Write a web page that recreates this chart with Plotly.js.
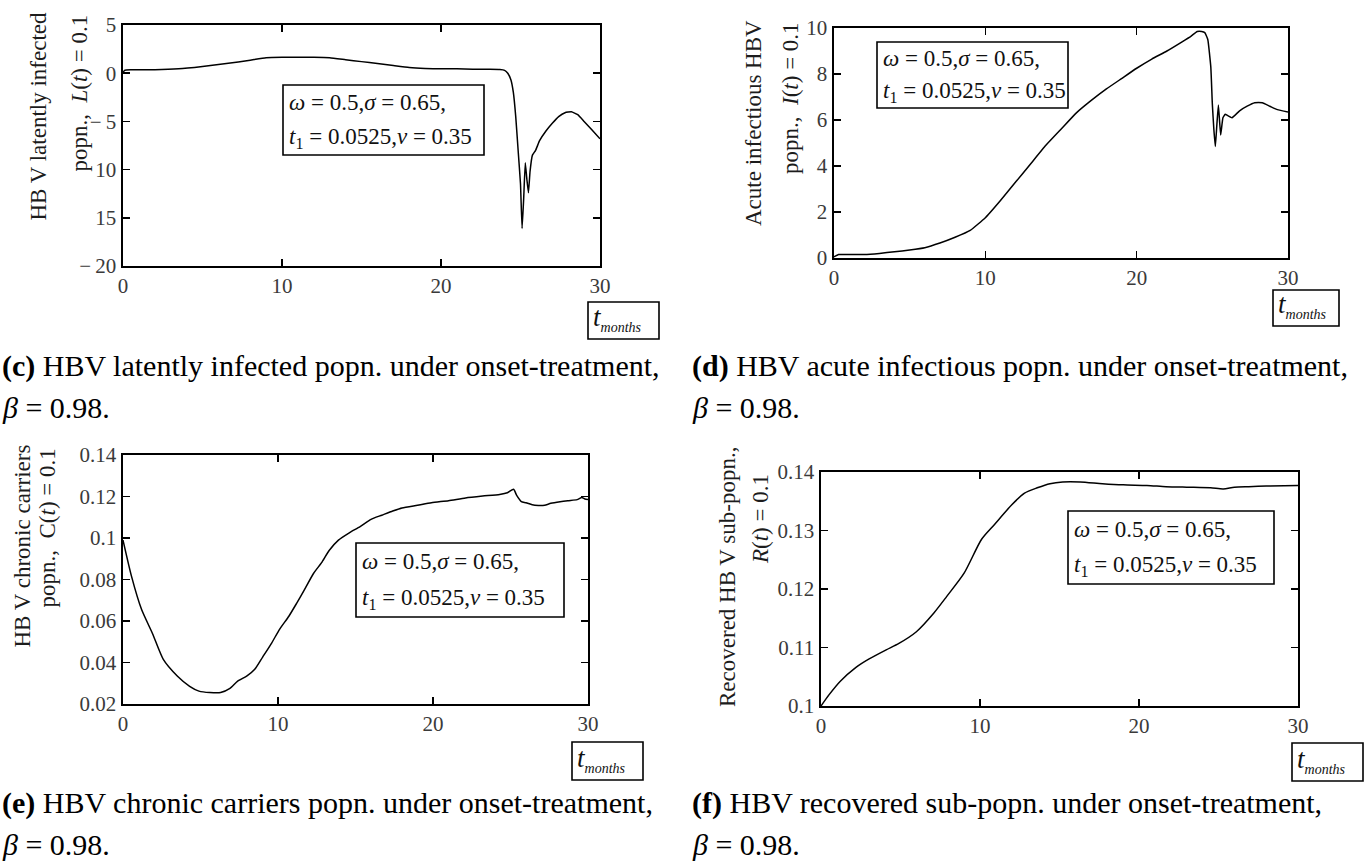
<!DOCTYPE html>
<html>
<head>
<meta charset="utf-8">
<script src="https://cdn.plot.ly/plotly-3.0.1.min.js"></script>
<style>html,body{margin:0;padding:0;background:#fff;}#chart{width:1370px;height:861px;}</style>
</head>
<body>
<div id="chart"></div>
<script>
// ---- data ----
const tL = [0, 0.1, 0.5, 2, 3.5, 5, 6.5, 8, 9, 10, 11, 12, 13, 14, 15, 16, 17, 18, 19, 20, 21, 22, 23, 23.7, 24.0, 24.2, 24.4, 24.55, 24.7, 24.85, 25.0, 25.1, 25.2, 25.3, 25.4, 25.5, 25.6, 25.75, 25.95, 26.2, 26.6, 27.0, 27.4, 27.8, 28.2, 28.6, 29.0, 29.5, 30];
const L  = [0.05, 0.3, 0.35, 0.35, 0.45, 0.7, 1.0, 1.35, 1.6, 1.65, 1.65, 1.65, 1.6, 1.4, 1.2, 1.0, 0.8, 0.6, 0.5, 0.45, 0.45, 0.42, 0.4, 0.38, 0.3, 0.0, -0.7, -2.0, -4.5, -8.0, -11.5, -16.1, -13.0, -9.3, -11.0, -12.4, -10.2, -8.5, -8.0, -7.0, -6.0, -5.2, -4.5, -4.1, -4.0, -4.3, -5.0, -5.9, -6.8];

const tI = [0, 0.3, 1, 2, 3, 4, 5, 6, 7, 8, 9, 10, 11, 12, 13, 14, 15, 16, 17, 18, 19, 20, 21, 22, 23, 23.6, 24.0, 24.3, 24.5, 24.7, 24.9, 25.0, 25.1, 25.2, 25.3, 25.4, 25.55, 25.7, 25.85, 26.0, 26.3, 26.8, 27.3, 27.8, 28.3, 28.8, 29.3, 30];
const I  = [0.05, 0.15, 0.15, 0.15, 0.2, 0.27, 0.35, 0.45, 0.65, 0.9, 1.2, 1.75, 2.5, 3.3, 4.1, 4.9, 5.6, 6.3, 6.85, 7.35, 7.8, 8.25, 8.65, 9.0, 9.4, 9.65, 9.85, 9.85, 9.8, 9.5, 8.3, 6.7, 5.6, 4.85, 5.8, 6.65, 5.35, 6.1, 6.25, 6.2, 6.1, 6.4, 6.6, 6.75, 6.75, 6.6, 6.45, 6.35];

const tC = [0, 0.55, 1.2, 1.9, 2.6, 3.5, 4.3, 4.9, 5.6, 6.3, 6.9, 7.4, 8.0, 8.5, 9.0, 9.6, 10.1, 10.7, 11.2, 11.7, 12.3, 12.8, 13.3, 13.9, 14.6, 15.3, 16.0, 16.7, 17.4, 18.0, 19.0, 19.9, 21.0, 22.1, 23.2, 24.3, 24.8, 25.2, 25.4, 25.7, 26.0, 26.4, 26.8, 27.2, 27.6, 28.2, 28.7, 29.3, 29.6, 29.8, 30];
const C  = [0.099, 0.0815, 0.0655, 0.054, 0.0415, 0.0335, 0.0285, 0.0262, 0.0255, 0.0255, 0.0275, 0.031, 0.0335, 0.0367, 0.0425, 0.0495, 0.056, 0.0623, 0.0685, 0.075, 0.083, 0.088, 0.094, 0.099, 0.1025, 0.1055, 0.109, 0.111, 0.113, 0.1145, 0.1158, 0.117, 0.118, 0.1193, 0.1202, 0.121, 0.1218, 0.1235, 0.1205, 0.1175, 0.117, 0.116, 0.1157, 0.1158, 0.1167, 0.1175, 0.118, 0.1185, 0.1195, 0.1188, 0.1185];

const tR = [0, 0.5, 1.2, 2.2, 3.0, 4.1, 4.9, 6.0, 7.1, 7.9, 9.0, 10.1, 10.9, 12.0, 12.8, 13.6, 14.4, 15.2, 16.3, 17.7, 19.0, 20.5, 21.7, 23.0, 24.5, 25.3, 26.0, 26.9, 28.0, 30];
const R  = [0.1, 0.1019, 0.1042, 0.1066, 0.108, 0.1096, 0.1107, 0.1127, 0.1159, 0.1187, 0.1227, 0.1285, 0.131, 0.1344, 0.1364, 0.1373, 0.138, 0.1383, 0.1383, 0.138, 0.1378, 0.1377, 0.1375, 0.1374, 0.1373, 0.1371, 0.1374, 0.1375, 0.1376, 0.1377];

const xTickVals = [0, 10, 20, 30];
const xTickText = ['0', '10', '20', '30'];
const yValsL = [-20, -15, -10, -5, 0, 5];
const yTextL = ['\u2212\u200920', '15', '10', '\u2212\u20095', '0', '5'];
const yValsI = [0, 2, 4, 6, 8, 10];
const yTextI = ['0', '2', '4', '6', '8', '10'];
const yValsC = [0.02, 0.04, 0.06, 0.08, 0.1, 0.12, 0.14];
const yTextC = ['0.02', '0.04', '0.06', '0.08', '0.1', '0.12', '0.14'];
const yValsR = [0.1, 0.11, 0.12, 0.13, 0.14];
const yTextR = ['0.1', '0.11', '0.12', '0.13', '0.14'];

const yTitlesL1 = ['HB V latently infected', 'Acute infectious HBV', 'HB V chronic carriers', 'Recovered HB V sub-popn.,'];
const yTitlesL2 = ['popn.,\u00a0 <i>L</i>(<i>t</i>) = 0.1', 'popn.,\u00a0 <i>I</i>(<i>t</i>) = 0.1', 'popn.,\u00a0 C(<i>t</i>) = 0.1', '<i>R</i>(<i>t</i>) = 0.1'];
const boxLine1 = '<i>ω</i> = 0.5,<i>σ</i> = 0.65,';
const boxLine2 = '<i>t</i><sub>1</sub> = 0.0525,<i>ν</i> = 0.35';
const tLabel = '<i>t</i><sub><i><span style="font-size:14px">months</span></i></sub>';
const captions = [
  '<b>(c)</b> HBV latently infected popn. under onset-treatment,',
  '<b>(d)</b> HBV acute infectious popn. under onset-treatment,',
  '<b>(e)</b> HBV chronic carriers popn. under onset-treatment,',
  '<b>(f)</b> HBV recovered sub-popn. under onset-treatment,'
];
const captionBeta = '<i>β</i> = 0.98.';

// ---- layout geometry (pixels) ----
const W = 1370, H = 861;
const px = x => x / W, py = y => 1 - y / H;
const SERIF = 'Liberation Serif, Times New Roman, serif';

const panels = [
  {x0: 123, x1: 600, y0: 25,  y1: 266, range: [-20, 5],     tv: yValsL, tt: yTextL, smooth: 0.35,
   t1x: 38, t1y: 10, t2x: 79, t2y: 13, bx0: 283, bx1: 484, by0: 85, by1: 155,
   tmx0: 588, tmx1: 659, tmy0: 302, tmy1: 339, capx: 0, capy: 366},
  {x0: 834, x1: 1288, y0: 28, y1: 258, range: [0, 10],      tv: yValsI, tt: yTextI, smooth: 0.35,
   t1x: 753, t1y: 18, t2x: 790, t2y: 20, bx0: 877, bx1: 1068, by0: 42, by1: 108,
   tmx0: 1273, tmx1: 1339, tmy0: 290, tmy1: 326, capx: 690, capy: 366},
  {x0: 123, x1: 588, y0: 455, y1: 704, range: [0.02, 0.14], tv: yValsC, tt: yTextC, smooth: 0.6,
   t1x: 22, t1y: 443, t2x: 47, t2y: 447, bx0: 356, bx1: 564, by0: 543, by1: 617,
   tmx0: 572, tmx1: 643, tmy0: 742, tmy1: 780, capx: 0, capy: 803},
  {x0: 821, x1: 1298, y0: 472, y1: 706, range: [0.1, 0.14], tv: yValsR, tt: yTextR, smooth: 0.7,
   t1x: 727, t1y: 445, t2x: 760, t2y: 472, bx0: 1068, bx1: 1274, by0: 511, by1: 584,
   tmx0: 1292, tmx1: 1363, tmy0: 743, tmy1: 781, capx: 690, capy: 803}
];
const series = [[tL, L], [tI, I], [tC, C], [tR, R]];

const traces = [];
const layout = {
  width: W, height: H, margin: {l: 0, r: 0, t: 0, b: 0},
  paper_bgcolor: '#fff', plot_bgcolor: '#fff', showlegend: false,
  font: {family: SERIF, color: '#111'},
  annotations: [], shapes: []
};

panels.forEach((p, i) => {
  const n = i === 0 ? '' : String(i + 1);
  traces.push({
    x: series[i][0], y: series[i][1], type: 'scatter', mode: 'lines',
    line: {color: '#000', width: 1.5, shape: 'spline', smoothing: p.smooth},
    xaxis: 'x' + n, yaxis: 'y' + n, hoverinfo: 'skip'
  });
  const common = {
    showline: true, linecolor: '#000', linewidth: 1.6, mirror: 'ticks',
    ticks: 'inside', ticklen: 7, tickwidth: 1.6, tickcolor: '#000',
    showgrid: false, zeroline: false, fixedrange: true, tickmode: 'array',
    tickfont: {family: SERIF, size: 21, color: '#3a3a3a'}
  };
  layout['xaxis' + n] = Object.assign({}, common, {
    domain: [px(p.x0), px(p.x1)], range: [0, 30], anchor: 'y' + n,
    tickvals: xTickVals, ticktext: xTickText
  });
  layout['yaxis' + n] = Object.assign({}, common, {
    domain: [py(p.y1), py(p.y0)], range: p.range, anchor: 'x' + n,
    tickvals: p.tv, ticktext: p.tt, ticklabelstandoff: 1
  });
  const A = layout.annotations, S = layout.shapes;
  const titleFont = {family: SERIF, size: 23, color: '#1c1c1c'};
  A.push({text: yTitlesL1[i], xref: 'paper', yref: 'paper', x: px(p.t1x), y: py(p.t1y),
          xanchor: 'center', yanchor: 'top', textangle: -90, showarrow: false, font: titleFont});
  A.push({text: yTitlesL2[i], xref: 'paper', yref: 'paper', x: px(p.t2x), y: py(p.t2y),
          xanchor: 'center', yanchor: 'top', textangle: -90, showarrow: false, font: titleFont});
  // parameter box
  S.push({type: 'rect', xref: 'paper', yref: 'paper', x0: px(p.bx0), x1: px(p.bx1), y0: py(p.by1), y1: py(p.by0),
          line: {color: '#000', width: 1.6}});
  const bh = p.by1 - p.by0;
  const boxFont = {family: SERIF, size: 23, color: '#111'};
  A.push({text: boxLine1, xref: 'paper', yref: 'paper', x: px(p.bx0 + 4), y: py(p.by0 + 0.25 * bh),
          xanchor: 'left', yanchor: 'middle', showarrow: false, font: boxFont});
  A.push({text: boxLine2, xref: 'paper', yref: 'paper', x: px(p.bx0 + 4), y: py(p.by0 + 0.76 * bh),
          xanchor: 'left', yanchor: 'middle', showarrow: false, font: boxFont});
  // t_months box
  S.push({type: 'rect', xref: 'paper', yref: 'paper', x0: px(p.tmx0), x1: px(p.tmx1), y0: py(p.tmy1), y1: py(p.tmy0),
          line: {color: '#000', width: 1.6}});
  A.push({text: tLabel, xref: 'paper', yref: 'paper', x: px(p.tmx0 + 3), y: py((p.tmy0 + p.tmy1) / 2 - 2),
          xanchor: 'left', yanchor: 'middle', showarrow: false, font: {family: SERIF, size: 27, color: '#111'}});
  // captions
  const capFont = {family: SERIF, size: 30, color: '#000'};
  A.push({text: captions[i], xref: 'paper', yref: 'paper', x: px(p.capx), y: py(p.capy),
          xanchor: 'left', yanchor: 'middle', showarrow: false, font: capFont});
  A.push({text: captionBeta, xref: 'paper', yref: 'paper', x: px(p.capx), y: py(p.capy + 41),
          xanchor: 'left', yanchor: 'middle', showarrow: false, font: capFont});
});

Plotly.newPlot('chart', traces, layout, {displayModeBar: false, staticPlot: true});
</script>
</body>
</html>
